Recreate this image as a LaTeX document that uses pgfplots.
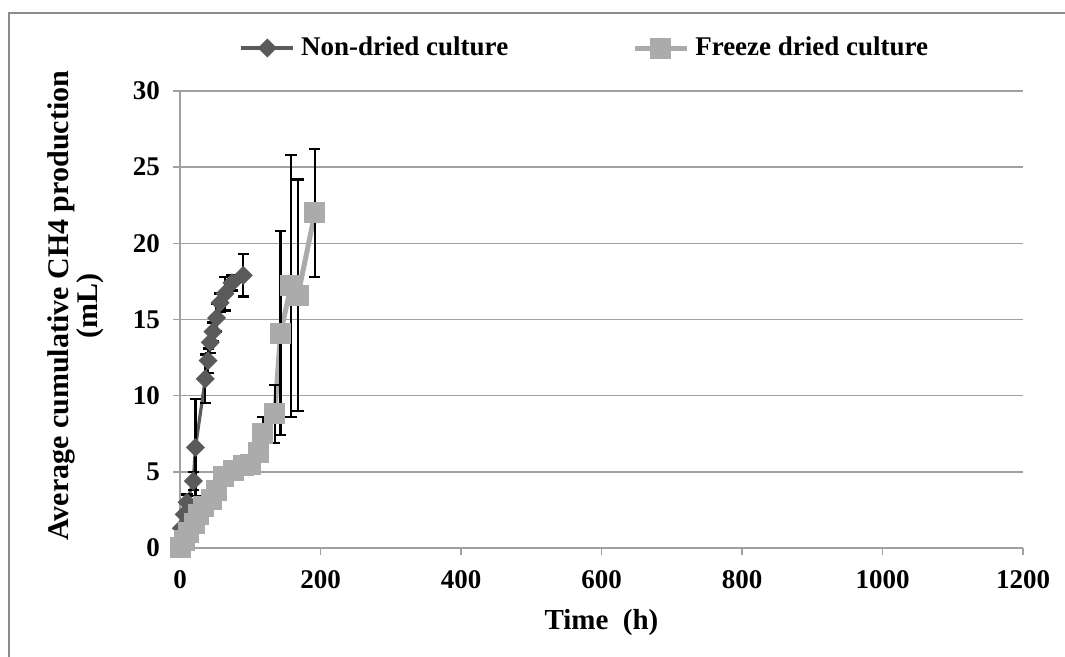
\documentclass[border=0pt]{standalone}
\usepackage{pgfplots}
\pgfplotsset{compat=1.18}
\usepackage{fontspec}
\setmainfont{Liberation Serif}
\definecolor{ndc}{HTML}{5A5A5A}
\definecolor{fdc}{HTML}{ABABAB}
\definecolor{gridc}{HTML}{A0A0A0}
\definecolor{framec}{HTML}{8C8C8C}
\begin{document}
\bfseries
\begin{tikzpicture}
\path[use as bounding box] (0pt,0pt) rectangle (532.5pt,328.5pt);
\draw[framec, line width=1.2pt] (4.5pt,0pt) -- (4.5pt,322pt) -- (533pt,322pt);
\begin{axis}[
  at={(90pt,54.5pt)}, anchor=south west,
  scale only axis, width=421.5pt, height=228.5pt,
  xmin=0, xmax=1200, ymin=0, ymax=30,
  xtick={0,200,...,1200}, ytick={0,5,...,30},
  axis lines*=left,
  axis line style={gridc, line width=0.8pt},
  ymajorgrids, grid style={gridc, line width=0.8pt},
  tick align=outside, major tick length=3.5pt,
  tick style={gridc, line width=0.8pt},
  /pgf/number format/assume math mode=true,
  /pgf/number format/1000 sep={},
  ticklabel style={font=\fontsize{13.5}{16}\selectfont\bfseries},
  xticklabel style={yshift=-4pt},
  yticklabel style={xshift=-3pt},
  xlabel={Time\ \ (h)},
  xlabel style={font=\fontsize{14.5}{17}\selectfont\bfseries, at={(axis description cs:0.5,-0.162)}, anchor=center},
  ylabel={Average cumulative CH4 production\\(mL)},
  ylabel style={font=\fontsize{15}{14.5}\selectfont\bfseries, align=center, at={(axis description cs:-0.124,0.53)}, anchor=center},
  legend columns=2,
  legend style={at={(axis description cs:0.4816,1.094)}, anchor=center, draw=none, fill=none,
    font=\fontsize{13.5}{16}\selectfont\bfseries,
    /tikz/every even column/.append style={column sep=60pt},
    /tikz/every odd column/.append style={column sep=1pt}},
  legend image code/.code={\draw[mark repeat=2,mark phase=2] plot coordinates {(0pt,0pt) (13pt,0pt) (26pt,0pt)};},
  error bars/error bar style={black, line width=1.2pt},
  error bars/error mark options={rotate=90, black, mark size=2.8pt, line width=1.2pt},
]
\addplot[ndc, line width=1.6pt, mark=square*, mark size=3.1pt, mark options={rotate=45, fill=ndc, draw=ndc, line width=0.5pt},
  error bars/.cd, y dir=both, y explicit]
  table[x=x, y=y, y error=e] {
x y e
0 0 0.2
2 1.3 0.3
6 2.2 0.3
10 3.0 0.5
19 4.4 0.6
22 6.6 3.2
36 11.1 1.6
40 12.3 0.8
43 13.5 0.7
47 14.2 0.6
52 15.1 0.9
57 16.1 0.6
64 16.7 1.1
74 17.4 0.5
90 17.9 1.4
};
\addlegendentry{Non-dried culture}
\addplot[fdc, line width=2.5pt, mark=square*, mark size=5pt, mark options={fill=fdc, draw=fdc, line width=0.5pt},
  error bars/.cd, y dir=both, y explicit]
  table[x=x, y=y, y error=e] {
x y e
0 0 0.2
6 0.5 0.2
12 1.0 0.3
20 1.6 0.3
26 2.2 0.3
34 2.7 0.4
45 3.2 0.6
52 3.8 0.5
62 4.7 0.4
76 5.1 0.3
90 5.4 0.3
100 5.5 0.3
112 6.3 0.6
118 7.5 1.1
135 8.8 1.9
143 14.1 6.7
158 17.2 8.6
168 16.6 7.6
192 22.0 4.2
};
\addlegendentry{Freeze dried culture}
\end{axis}
\end{tikzpicture}
\end{document}
